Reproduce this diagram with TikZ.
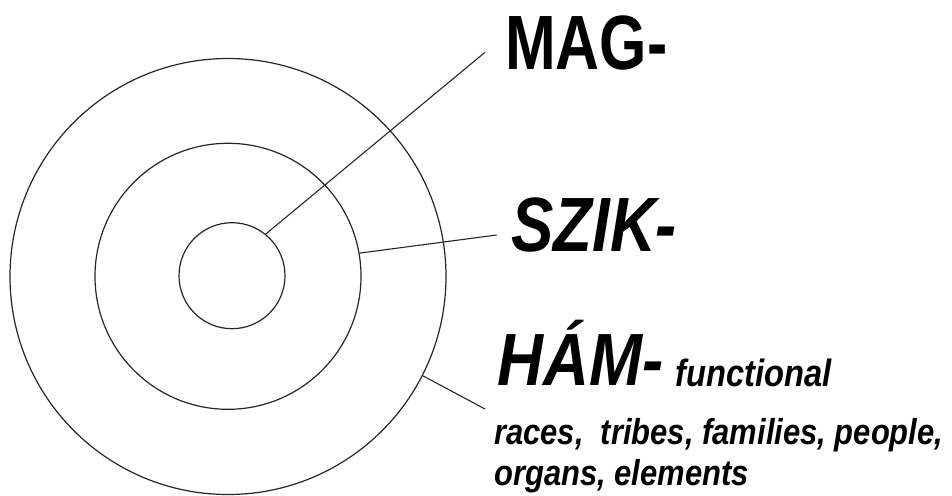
\documentclass[tikz,border=0pt]{standalone}
\usepackage{fontspec}
\newfontfamily\magfont[FakeStretch=0.79]{Liberation Sans}
\newfontfamily\szikfont[FakeStretch=0.825]{Liberation Sans}
\newfontfamily\hamfont[FakeStretch=0.86]{Liberation Sans}
\newfontfamily\smallfont[FakeStretch=0.86]{Liberation Sans}
\begin{document}
\begin{tikzpicture}[x=1pt,y=-1pt,
  ring/.style={draw=black!85,circle,line width=1.2pt,inner sep=0pt},
  conn/.style={draw=black!85,line width=1.1pt},
  lab/.style={anchor=base west,inner sep=0pt},
  small/.style={lab,font=\smallfont\bfseries\itshape\fontsize{36}{36}\selectfont}]
\useasboundingbox (0,0) rectangle (952,495);
\node[ring,minimum size=436pt] (outer) at (228,276.5) {};
\node[ring,minimum size=266pt] (mid) at (228,276.3) {};
\node[ring,minimum size=106pt] (inner) at (232,275.7) {};
\coordinate (magend) at (485,52.3);
\coordinate (szikend) at (496.7,235);
\coordinate (hamend) at (485,409);
\draw[conn] (inner.51) -- (magend);
\draw[conn] (mid.10) -- (szikend);
\draw[conn] (outer.-27.5) -- (hamend);
\node[lab,font=\magfont\bfseries\fontsize{77}{77}\selectfont] (mag) at (505,70) {MAG-};
\node[lab,font=\szikfont\bfseries\itshape\fontsize{77}{77}\selectfont] (szik) at (511,251.7) {SZIK-};
\node[lab,font=\hamfont\bfseries\itshape\fontsize{74}{74}\selectfont] (ham) at (497,385) {HÁM-};
\node[small,font=\smallfont\bfseries\itshape\fontsize{38}{38}\selectfont] (func) at (675,386.7) {functional};
\node[small] (races) at (494,444) {races,\ \ tribes, families, people,};
\node[small] (organs) at (494,485) {organs, elements};
\end{tikzpicture}
\end{document}
